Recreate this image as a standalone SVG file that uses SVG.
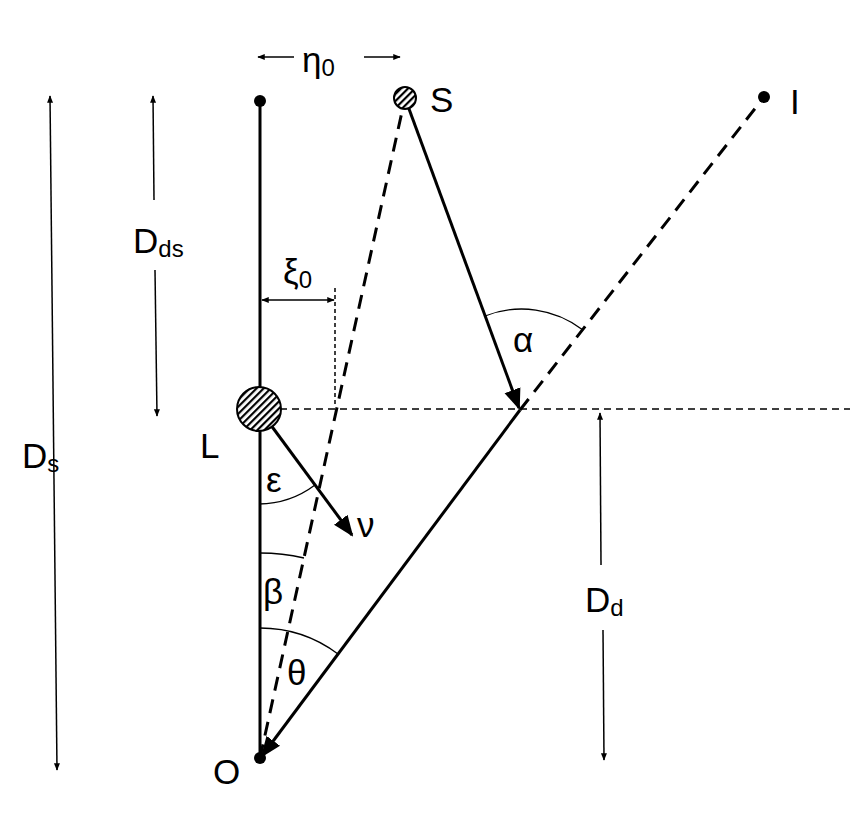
<svg xmlns="http://www.w3.org/2000/svg" width="865" height="829" viewBox="0 0 865 829">
<defs>
<marker id="ah" viewBox="0 0 10 10" refX="9" refY="5" markerWidth="7" markerHeight="7" orient="auto-start-reverse"><path d="M0,1 L10,5 L0,9 Z" fill="#000"/></marker>
<marker id="as" viewBox="0 0 10 10" refX="9" refY="5" markerWidth="5" markerHeight="5" orient="auto-start-reverse"><path d="M0,1 L10,5 L0,9 Z" fill="#000"/></marker>
<pattern id="hatch" width="5" height="5" patternUnits="userSpaceOnUse" patternTransform="rotate(45)"><rect width="5" height="5" fill="#fff"/><rect width="2.2" height="5" fill="#000"/></pattern>
</defs>
<style>
.t{font-family:"Liberation Sans",Arial,sans-serif;font-size:35px;fill:#000}
.s{font-family:"Liberation Sans",Arial,sans-serif;font-size:24px;fill:#000}
.ln{stroke:#000;stroke-width:3;fill:none}
.dim{stroke:#000;stroke-width:1.5;fill:none}
.da{stroke:#000;stroke-width:3;fill:none;stroke-dasharray:14 9}
.arc{stroke:#000;stroke-width:1.3;fill:none}
</style>
<rect width="865" height="829" fill="#fff"/>
<g id="connectors">
<line class="ln" x1="260" y1="101" x2="260" y2="758"/>
<line x1="280" y1="409" x2="850" y2="409" stroke="#000" stroke-width="1.5" stroke-dasharray="7 5"/>
<line x1="335" y1="288" x2="335" y2="406" stroke="#000" stroke-width="1.5" stroke-dasharray="4 3"/>
<line class="da" x1="260" y1="758" x2="405" y2="98"/>
<line class="da" x1="520" y1="410" x2="764" y2="97"/>
<line class="ln" x1="405" y1="98" x2="519" y2="408" marker-end="url(#ah)"/>
<line class="ln" x1="520" y1="410" x2="262" y2="756" marker-end="url(#ah)"/>
<line class="ln" x1="259" y1="409" x2="352" y2="535" marker-end="url(#ah)"/>
<line class="dim" x1="50" y1="96" x2="57" y2="770" marker-start="url(#as)" marker-end="url(#as)"/>
<line class="dim" x1="153" y1="96" x2="154" y2="200" marker-start="url(#as)"/>
<line class="dim" x1="155" y1="270" x2="157" y2="416" marker-end="url(#as)"/>
<line class="dim" x1="600" y1="413" x2="601" y2="565" marker-start="url(#as)"/>
<line class="dim" x1="603" y1="630" x2="604" y2="760" marker-end="url(#as)"/>
<line class="dim" x1="258" y1="57" x2="294" y2="57" marker-start="url(#as)"/>
<line class="dim" x1="364" y1="57" x2="400" y2="57" marker-end="url(#as)"/>
<line class="dim" x1="262" y1="300" x2="334" y2="300" marker-start="url(#as)" marker-end="url(#as)"/>
<path class="arc" d="M485,316 A100,100 0 0 1 583,330"/>
<path class="arc" d="M259,504 A95,95 0 0 0 315,485"/>
<path class="arc" d="M260,553 A205,205 0 0 1 304,558"/>
<path class="arc" d="M260,628 A130,130 0 0 1 338,654"/>
</g>
<g id="top"><circle cx="260" cy="101" r="6" fill="#000"/></g>
<g id="S"><circle cx="405" cy="98" r="11" fill="url(#hatch)" stroke="#000" stroke-width="2"/><text class="t" x="430" y="112">S</text></g>
<g id="I"><circle cx="764" cy="97" r="6" fill="#000"/><text class="t" x="790" y="114">I</text></g>
<g id="L"><circle cx="259" cy="409" r="22" fill="url(#hatch)" stroke="#000" stroke-width="2"/><text class="t" x="200" y="458">L</text></g>
<g id="O"><circle cx="260" cy="758" r="6" fill="#000"/><text class="t" x="213" y="784">O</text></g>
<g id="labels">
<text class="t" x="302" y="72">η<tspan class="s" dy="4">0</tspan></text>
<text class="t" x="283" y="284">ξ<tspan class="s" dy="4">0</tspan></text>
<text class="t" x="133" y="253">D<tspan class="s" dy="4">ds</tspan></text>
<text class="t" x="22" y="468">D<tspan class="s" dy="4">s</tspan></text>
<text class="t" x="585" y="612">D<tspan class="s" dy="4">d</tspan></text>
<text class="t" x="513" y="352">α</text>
<text class="t" x="266" y="492">ε</text>
<text class="t" x="357" y="537">ν</text>
<text class="t" x="263" y="604">β</text>
<text class="t" x="287" y="685">θ</text>
</g>
</svg>
